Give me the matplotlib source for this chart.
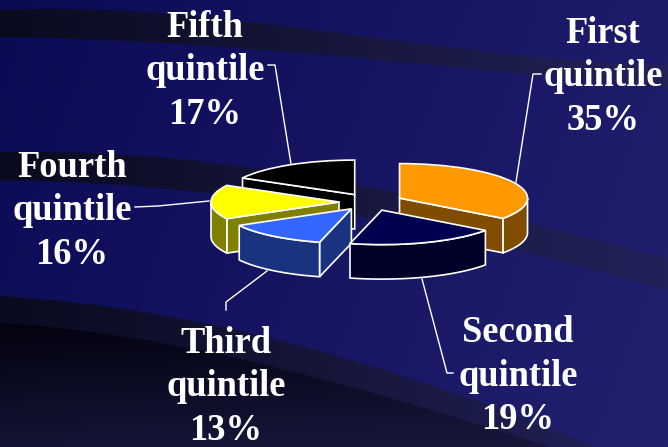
import numpy as np
import matplotlib
matplotlib.use("Agg")
import matplotlib.pyplot as plt
from matplotlib.patches import Polygon

names = ["First", "Second", "Third", "Fourth", "Fifth"]
shares = [35, 19, 13, 16, 17]
top_colors = ["#FF9900", "#000050", "#3366FF", "#FFFF00", "#000000"]
side_colors = ["#804D00", "#000028", "#1A3380", "#808000", "#000000"]

label_x = [603, 518, 226, 72, 205]
label_y = [77, 376, 387, 211, 71]
leaders = [
    [(516, 182), (533, 74), (541, 74)],
    [(422, 279), (447, 373), (453, 373)],
    [(267, 271), (226, 302), (226, 310)],
    [(209, 201), (158, 206), (135, 207)],
    [(291, 164), (275, 65), (268, 65)],
]

W, H = 668, 447
explode = 0.25
rx, ry = 128, 34.5   # pixels per pie unit
cx, cy = 371, 202    # pie centre in pixels
depth = 1.0          # side height, in y units

fig = plt.figure(figsize=(W / 100, H / 100), dpi=100)

# background
bg = fig.add_axes([0, 0, 1, 1], zorder=0)
bg.set_xlim(0, W)
bg.set_ylim(H, 0)
bg.axis("off")
xx, yy = np.meshgrid(np.linspace(0, 1, 200), np.linspace(0, 1, 120))


def gradient(t, dark, light):
    dark = np.array(dark) / 255
    light = np.array(light) / 255
    return np.clip(dark[None, None, :] + t[:, :, None] * (light - dark)[None, None, :], 0, 1)


bg.imshow(gradient(0.8 * xx + 0.2 * yy, (10, 10, 85), (33, 33, 112)),
          extent=(0, W, H, 0), aspect="auto", zorder=0)
band_x = np.linspace(0, W, 200)
band_img = gradient(xx, (10, 10, 30), (34, 34, 90))
deep_img = gradient(np.clip((yy * H - 320) / 127, 0, 1) * 0.8 + 0.2 * xx, (2, 2, 14), (24, 24, 62))


def curve(xs, ys, deg=3):
    return np.polyval(np.polyfit(xs, ys, deg), band_x)


def band(upper, lower, img, z):
    im = bg.imshow(img, extent=(0, W, H, 0), aspect="auto", zorder=z)
    verts = np.r_[np.c_[band_x, upper], np.c_[band_x[::-1], lower[::-1]]]
    im.set_clip_path(Polygon(verts, closed=True, transform=bg.transData))


band(curve([0, 250, 537, 668], [10, 22, 57, 65]),
     curve([0, 250, 537, 668], [37, 49, 75, 87]), band_img, 1)
band(curve([0, 200, 400, 545, 668], [152, 163, 190, 230, 258]),
     curve([0, 135, 400, 518, 668], [180, 187, 222, 253, 290]), band_img, 1)
band(curve([0, 100, 200, 400, 596], [296, 306, 322, 375, 447]), np.full(200, H + 5.0), band_img, 1)
band(curve([0, 100, 187, 380, 550], [323, 333, 348, 395, 447]), np.full(200, H + 5.0), deep_img, 2)
bg.set_xlim(0, W)
bg.set_ylim(H, 0)

for pts in leaders:
    bg.plot([p[0] for p in pts], [p[1] for p in pts], color="white", lw=1.0, zorder=3)

for name, share, x, y in zip(names, shares, label_x, label_y):
    bg.text(x, y, f"{name}\nquintile\n{share}%", color="white", ha="center", va="center",
            family="Liberation Serif", fontweight="bold", fontsize=26.3, linespacing=1.3, zorder=4)

# pie
ax = fig.add_axes([0, 0, 1, 1], zorder=1)
ax.patch.set_alpha(0)
wedges, _ = ax.pie(shares, colors=top_colors, explode=[explode] * len(shares), startangle=90,
                   counterclock=False, wedgeprops=dict(edgecolor="white", linewidth=1.2))
ax.set_aspect("auto")
ax.set_position([0, 0, 1, 1])
ax.set_xlim(-cx / rx, (W - cx) / rx)
ax.set_ylim((cy - H) / ry, cy / ry)
ax.axis("off")

edges = np.cumsum([0] + shares) * 3.6  # clockwise from 12 o'clock


def rim(c, a):
    r = np.radians(a)
    return c[0] + np.sin(r), c[1] + np.cos(r)


def side(pts, color, z):
    ax.add_patch(Polygon(pts, closed=True, facecolor=color, edgecolor="white", linewidth=1.2, zorder=z))


for z, i in enumerate([4, 0, 3, 2, 1]):
    a0, a1 = edges[i], edges[i + 1]
    mid = np.radians((a0 + a1) / 2)
    c = (explode * np.sin(mid), explode * np.cos(mid))
    base = 10 * z + 2
    # cut faces turned towards the viewer
    for a, sign in ((a0, -1), (a1, 1)):
        if sign * np.sin(np.radians(a)) > 1e-6:
            p = rim(c, a)
            side([c, p, (p[0], p[1] - depth), (c[0], c[1] - depth)], side_colors[i], base)
    # outer wall, front half only
    w0, w1 = max(a0, 90), min(a1, 270)
    if w1 > w0:
        arc = [rim(c, a) for a in np.linspace(w0, w1, 40)]
        low = [(x, y - depth) for x, y in arc[::-1]]
        side(arc + low, side_colors[i], base + 1)
    wedges[i].set_zorder(base + 2)

fig.savefig("out.png", dpi=100)
